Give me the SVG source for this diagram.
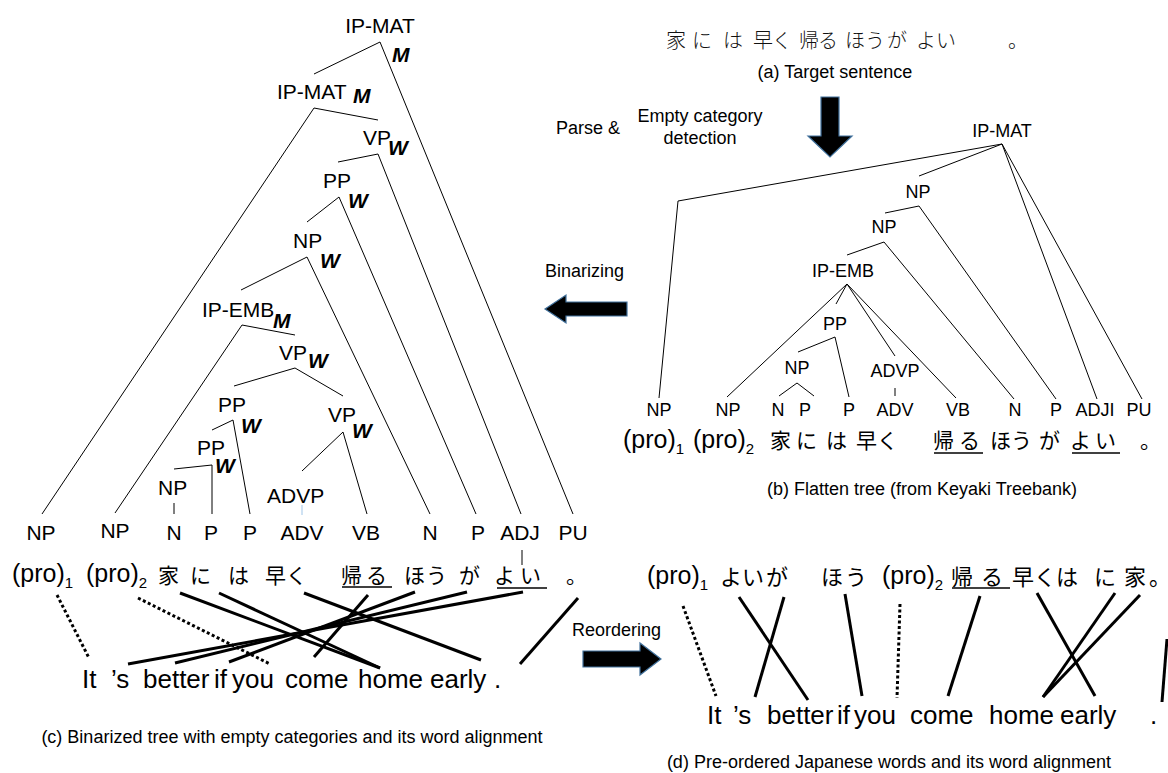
<svg xmlns="http://www.w3.org/2000/svg" width="1168" height="773" viewBox="0 0 1168 773">
<defs>
<style>
text { font-family: "Liberation Sans", Arial, Helvetica, sans-serif; fill: #000; }
.c21 { font-size: 21px; }
.mid { text-anchor: middle; }
.b18 { font-size: 18px; text-anchor: middle; }
.bi { font-size: 21px; font-weight: bold; font-style: italic; }
.jp { font-family: "Noto Sans CJK JP", "Noto Sans CJK SC", sans-serif; font-size: 21px; }
.jpa { font-family: "Noto Sans CJK JP", "Noto Sans CJK SC", sans-serif; font-size: 20px; font-weight: 300; fill: #111; }
.jpd { font-family: "Noto Sans CJK JP", "Noto Sans CJK SC", sans-serif; font-size: 22px; }
.pro { font-size: 25px; }
.en { font-size: 26px; }
.cap { font-size: 18px; text-anchor: middle; }
.lab { font-size: 18px; }
.e { stroke: #000; stroke-width: 1; fill: none; }
.ul { stroke: #000; stroke-width: 1.5; }
.al { stroke: #000; stroke-width: 3; fill: none; }
.dt { stroke: #000; stroke-width: 3; stroke-dasharray: 3 2.5; fill: none; }
.arr { fill: #000; stroke: #41719c; stroke-width: 1.2; }
</style>
</defs>
<rect width="1168" height="773" fill="#fff"/>

<!-- ===== Panel (a) ===== -->
<g id="a-sentence">
<text class="jpa" x="666" y="48">家</text>
<text class="jpa" x="692" y="48">に</text>
<text class="jpa" x="723" y="48">は</text>
<text class="jpa" x="753" y="48">早</text>
<text class="jpa" x="772" y="48">く</text>
<text class="jpa" x="799" y="48">帰</text>
<text class="jpa" x="818" y="48">る</text>
<text class="jpa" x="845" y="48">ほ</text>
<text class="jpa" x="865" y="48">う</text>
<text class="jpa" x="887" y="48">が</text>
<text class="jpa" x="916" y="48">よ</text>
<text class="jpa" x="936" y="48">い</text>
<text class="jpa" x="1008" y="48">。</text>
</g>
<text id="a-caption" class="cap" x="835" y="78">(a) Target sentence</text>

<!-- process labels and arrows -->
<g id="parse-label">
<text class="lab" x="556" y="134">Parse &amp;</text>
<text class="lab mid" x="700" y="122">Empty category</text>
<text class="lab mid" x="700" y="144">detection</text>
</g>
<polygon id="arrow-down" class="arr" points="821,97 839,97 839,136 852,136 830,157 808,136 821,136"/>
<text id="binarizing-label" class="lab" x="545" y="277">Binarizing</text>
<polygon id="arrow-left" class="arr" points="545,309 566,295 566,302 627,302 627,316 566,316 566,323"/>
<text id="reordering-label" class="lab" x="572" y="636" font-size="17">Reordering</text>
<polygon id="arrow-right" class="arr" points="583,651 640,651 640,643 661,659 640,675 640,667 583,667"/>

<!-- ===== Panel (b) flat tree ===== -->
<g id="b-edges">
<polyline class="e" points="1002,144 678,201 659,398"/>
<line class="e" x1="1002" y1="144" x2="919" y2="176"/>
<line class="e" x1="1002" y1="144" x2="1097" y2="399"/>
<line class="e" x1="1002" y1="144" x2="1142" y2="399"/>
<line class="e" x1="919" y1="206" x2="885" y2="213"/>
<line class="e" x1="919" y1="206" x2="1056" y2="399"/>
<line class="e" x1="884" y1="242" x2="847" y2="255"/>
<line class="e" x1="884" y1="242" x2="1014" y2="399"/>
<line class="e" x1="847" y1="284" x2="727" y2="397"/>
<line class="e" x1="847" y1="284" x2="836" y2="304"/>
<line class="e" x1="847" y1="284" x2="895" y2="356"/>
<line class="e" x1="847" y1="284" x2="956" y2="398"/>
<line class="e" x1="835" y1="337" x2="798" y2="352"/>
<line class="e" x1="835" y1="337" x2="849" y2="397"/>
<line class="e" x1="797" y1="383" x2="779" y2="396"/>
<line class="e" x1="797" y1="383" x2="814" y2="396"/>
<line class="e" x1="895" y1="388" x2="895" y2="396"/>
</g>
<g id="b-ipmat"><text class="b18" x="1002" y="137">IP-MAT</text></g>
<g id="b-np1"><text class="b18" x="918" y="198">NP</text></g>
<g id="b-np2"><text class="b18" x="884" y="233">NP</text></g>
<g id="b-ipemb"><text class="b18" x="843" y="277">IP-EMB</text></g>
<g id="b-pp"><text class="b18" x="835" y="330">PP</text></g>
<g id="b-np3"><text class="b18" x="797" y="374">NP</text></g>
<g id="b-advp"><text class="b18" x="895" y="377">ADVP</text></g>
<g id="b-leaves">
<text class="b18" x="659" y="416">NP</text>
<text class="b18" x="728" y="416">NP</text>
<text class="b18" x="778" y="416">N</text>
<text class="b18" x="805" y="416">P</text>
<text class="b18" x="849" y="416">P</text>
<text class="b18" x="895" y="416">ADV</text>
<text class="b18" x="958" y="416">VB</text>
<text class="b18" x="1015" y="416">N</text>
<text class="b18" x="1056" y="416">P</text>
<text class="b18" x="1095" y="416">ADJI</text>
<text class="b18" x="1139" y="416">PU</text>
</g>
<g id="b-sentence">
<text class="pro" x="623" y="448">(pro)<tspan font-size="15" dy="6">1</tspan></text>
<text class="pro" x="693" y="448">(pro)<tspan font-size="15" dy="6">2</tspan></text>
<text class="jp" x="770" y="448">家</text>
<text class="jp" x="796" y="448">に</text>
<text class="jp" x="826" y="448">は</text>
<text class="jp" x="856" y="448">早</text>
<text class="jp" x="877" y="448">く</text>
<text class="jp" x="933" y="448">帰</text>
<text class="jp" x="959" y="448">る</text>
<line class="ul" x1="934" y1="453" x2="983" y2="453"/>
<text class="jp" x="990" y="448">ほ</text>
<text class="jp" x="1011" y="448">う</text>
<text class="jp" x="1039" y="448">が</text>
<text class="jp" x="1070" y="448">よ</text>
<text class="jp" x="1095" y="448">い</text>
<line class="ul" x1="1072" y1="453" x2="1120" y2="453"/>
<text class="jp" x="1140" y="448">。</text>
</g>
<text id="b-caption" class="cap" x="922" y="495">(b) Flatten tree (from Keyaki Treebank)</text>

<!-- ===== Panel (c) binarized tree ===== -->
<g id="c-edges">
<line class="e" x1="380" y1="42" x2="314" y2="74"/>
<line class="e" x1="380" y1="42" x2="573" y2="514"/>
<line class="e" x1="314" y1="108" x2="378" y2="120"/>
<line class="e" x1="314" y1="108" x2="42" y2="514"/>
<line class="e" x1="378" y1="154" x2="338" y2="162"/>
<line class="e" x1="378" y1="154" x2="521" y2="514"/>
<line class="e" x1="339" y1="197" x2="307" y2="222"/>
<line class="e" x1="339" y1="197" x2="476" y2="514"/>
<line class="e" x1="307" y1="257" x2="241" y2="290"/>
<line class="e" x1="307" y1="257" x2="430" y2="514"/>
<line class="e" x1="242" y1="325" x2="295" y2="335"/>
<line class="e" x1="242" y1="325" x2="115" y2="513"/>
<line class="e" x1="295" y1="368" x2="234" y2="386"/>
<line class="e" x1="295" y1="368" x2="343" y2="396"/>
<line class="e" x1="233" y1="420" x2="212" y2="430"/>
<line class="e" x1="233" y1="420" x2="250" y2="514"/>
<line class="e" x1="343" y1="432" x2="302" y2="471"/>
<line class="e" x1="343" y1="432" x2="367" y2="514"/>
<polyline class="e" points="174,469 212,465 212,514"/>
<line class="e" x1="174" y1="503" x2="174" y2="514"/>
<line x1="302" y1="505" x2="302" y2="515" stroke="#9fc5e8" stroke-width="1"/>
<line class="e" x1="522" y1="550" x2="522" y2="565" stroke-width="1.5"/>
</g>
<g id="c-ipmat-top"><text class="c21 mid" x="380" y="33">IP-MAT</text><text class="bi" x="392" y="62">M</text></g>
<g id="c-ipmat"><text class="c21" x="277" y="99">IP-MAT</text><text class="bi" x="353" y="103">M</text></g>
<g id="c-vp1"><text class="c21" x="363" y="145">VP</text><text class="bi" x="388" y="155">W</text></g>
<g id="c-pp1"><text class="c21" x="323" y="188">PP</text><text class="bi" x="348" y="208">W</text></g>
<g id="c-np1"><text class="c21" x="293" y="248">NP</text><text class="bi" x="320" y="268">W</text></g>
<g id="c-ipemb"><text class="c21" x="202" y="317">IP-EMB</text><text class="bi" x="273" y="328">M</text></g>
<g id="c-vp2"><text class="c21" x="279" y="360">VP</text><text class="bi" x="308" y="368">W</text></g>
<g id="c-pp2"><text class="c21" x="218" y="412">PP</text><text class="bi" x="241" y="433">W</text></g>
<g id="c-vp3"><text class="c21" x="328" y="422">VP</text><text class="bi" x="352" y="438">W</text></g>
<g id="c-pp3"><text class="c21" x="197" y="455">PP</text><text class="bi" x="215" y="473">W</text></g>
<g id="c-np2"><text class="c21" x="158" y="495">NP</text></g>
<g id="c-advp"><text class="c21" x="267" y="503">ADVP</text></g>
<g id="c-leaves">
<text class="c21 mid" x="41" y="540">NP</text>
<text class="c21 mid" x="115" y="538">NP</text>
<text class="c21 mid" x="174" y="540">N</text>
<text class="c21 mid" x="211" y="540">P</text>
<text class="c21 mid" x="250" y="540">P</text>
<text class="c21 mid" x="302" y="540">ADV</text>
<text class="c21 mid" x="366" y="540">VB</text>
<text class="c21 mid" x="430" y="540">N</text>
<text class="c21 mid" x="478" y="540">P</text>
<text class="c21 mid" x="520" y="540">ADJ</text>
<text class="c21 mid" x="573" y="540">PU</text>
</g>
<g id="c-sentence">
<text class="pro" x="12" y="582">(pro)<tspan font-size="15" dy="6">1</tspan></text>
<text class="pro" x="86" y="582">(pro)<tspan font-size="15" dy="6">2</tspan></text>
<text class="jp" x="158" y="583">家</text>
<text class="jp" x="190" y="583">に</text>
<text class="jp" x="228" y="583">は</text>
<text class="jp" x="265" y="583">早</text>
<text class="jp" x="286" y="583">く</text>
<text class="jp" x="341" y="583">帰</text>
<text class="jp" x="366" y="583">る</text>
<line class="ul" x1="342" y1="587" x2="392" y2="587"/>
<text class="jp" x="404" y="583">ほ</text>
<text class="jp" x="426" y="583">う</text>
<text class="jp" x="459" y="583">が</text>
<text class="jp" x="494" y="583">よ</text>
<text class="jp" x="520" y="583">い</text>
<line class="ul" x1="497" y1="588" x2="547" y2="588"/>
<text class="jp" x="566" y="583">。</text>
</g>
<g id="c-alignment">
<line class="dt" x1="57" y1="595" x2="89" y2="658"/>
<line class="dt" x1="138" y1="598" x2="270" y2="664"/>
<line class="al" x1="180" y1="593" x2="380" y2="668"/>
<line class="al" x1="219" y1="593" x2="380" y2="668"/>
<line class="al" x1="304" y1="593" x2="481" y2="660"/>
<line class="al" x1="368" y1="595" x2="314" y2="657"/>
<line class="al" x1="415" y1="592" x2="229" y2="662"/>
<line class="al" x1="467" y1="592" x2="175" y2="663"/>
<line class="al" x1="523" y1="592" x2="128" y2="664"/>
<line class="al" x1="578" y1="598" x2="520" y2="664"/>
</g>
<g id="c-english">
<text class="en" x="82" y="688">It</text>
<text class="en" x="111" y="688">’s</text>
<text class="en" x="143" y="688">better</text>
<text class="en" x="214" y="688">if</text>
<text class="en" x="232" y="688">you</text>
<text class="en" x="285" y="688">come</text>
<text class="en" x="358" y="688">home</text>
<text class="en" x="430" y="688">early</text>
<text class="en" x="494" y="688">.</text>
</g>
<text id="c-caption" class="cap" x="292" y="743">(c) Binarized tree with empty categories and its word alignment</text>

<!-- ===== Panel (d) ===== -->
<g id="d-sentence">
<text class="pro" x="647" y="584">(pro)<tspan font-size="15" dy="6">1</tspan></text>
<text class="jpd" x="720" y="585">よ</text>
<text class="jpd" x="742" y="585">い</text>
<text class="jpd" x="766" y="585">が</text>
<text class="jpd" x="821" y="585">ほ</text>
<text class="jpd" x="845" y="585">う</text>
<text class="pro" x="882" y="584">(pro)<tspan font-size="15" dy="6">2</tspan></text>
<text class="jpd" x="951" y="585">帰</text>
<text class="jpd" x="981" y="585">る</text>
<line class="ul" x1="952" y1="588" x2="1010" y2="588"/>
<text class="jpd" x="1012" y="585">早</text>
<text class="jpd" x="1034" y="585">く</text>
<text class="jpd" x="1056" y="585">は</text>
<text class="jpd" x="1094" y="585">に</text>
<text class="jpd" x="1124" y="585">家</text>
<text class="jpd" x="1149" y="585">。</text>
</g>
<g id="d-alignment">
<line class="dt" x1="683" y1="606" x2="716" y2="696"/>
<line class="al" x1="739" y1="597" x2="808" y2="700"/>
<line class="al" x1="784" y1="597" x2="755" y2="697"/>
<line class="al" x1="845" y1="594" x2="862" y2="696"/>
<line class="dt" x1="900" y1="604" x2="897" y2="698"/>
<line class="al" x1="980" y1="596" x2="948" y2="696"/>
<line class="al" x1="1037" y1="593" x2="1095" y2="696"/>
<line class="al" x1="1115" y1="593" x2="1043" y2="697"/>
<line class="al" x1="1140" y1="595" x2="1043" y2="697"/>
<line class="al" x1="1167" y1="639" x2="1162" y2="702"/>
</g>
<g id="d-english">
<text class="en" x="707" y="724">It</text>
<text class="en" x="733" y="724">’s</text>
<text class="en" x="767" y="724">better</text>
<text class="en" x="837" y="724">if</text>
<text class="en" x="854" y="724">you</text>
<text class="en" x="910" y="724">come</text>
<text class="en" x="989" y="724">home</text>
<text class="en" x="1060" y="724">early</text>
<text class="en" x="1150" y="724">.</text>
</g>
<text id="d-caption" class="cap" x="889" y="768">(d) Pre-ordered Japanese words and its word alignment</text>
</svg>
